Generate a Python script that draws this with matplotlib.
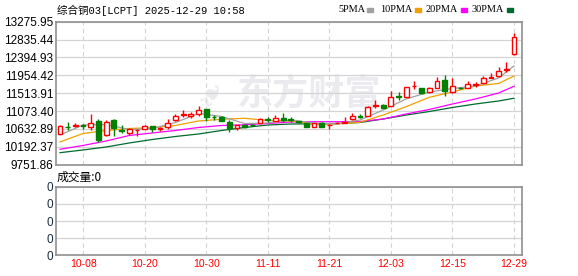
import matplotlib
matplotlib.use("Agg")
import matplotlib.pyplot as plt
import numpy as np

# ---- data ----
dates = ["10-03", "10-06", "10-07", "10-08", "10-09", "10-10", "10-13", "10-14", "10-15", "10-16",
         "10-17", "10-20", "10-21", "10-22", "10-23", "10-24", "10-27", "10-28", "10-29", "10-30",
         "10-31", "11-03", "11-04", "11-05", "11-06", "11-07", "11-10", "11-11", "11-12", "11-13",
         "11-14", "11-17", "11-18", "11-19", "11-20", "11-21", "11-24", "11-25", "11-26", "11-27",
         "11-28", "12-01", "12-02", "12-03", "12-04", "12-05", "12-08", "12-09", "12-10", "12-11",
         "12-12", "12-15", "12-16", "12-17", "12-18", "12-19", "12-22", "12-23", "12-24", "12-29"]

opens = [10510, 10690, 10700, 10720, 10674, 10829, 10484, 10854, 10600, 10540,
         10595, 10640, 10705, 10625, 10670, 10845, 10980, 10960, 10990, 11120,
         10930, 10920, 10800, 10660, 10740, 10730, 10775, 10870, 10840, 10910,
         10886, 10820, 10772, 10689, 10790, 10720, 10780, 10780, 10870, 10950,
         10960, 11210, 11223, 11199, 11440, 11428, 11680, 11635, 11537, 11650,
         11839, 11551, 11645, 11650, 11725, 11758, 11895, 11945, 12095, 12473]
highs = [10720, 10797, 10780, 10760, 10994, 10878, 10854, 10870, 10740, 10660,
         10620, 10720, 10715, 10690, 10870, 10995, 11100, 11060, 11190, 11130,
         10975, 10950, 10860, 10740, 10750, 10750, 10910, 10920, 10985, 11019,
         10928, 10840, 10780, 10780, 10800, 10760, 10810, 10935, 11018, 10990,
         11190, 11347, 11240, 11568, 11537, 11670, 11815, 11650, 11660, 11920,
         11962, 11881, 11660, 11815, 11797, 11938, 12019, 12167, 12290, 12990]
lows = [10500, 10615, 10680, 10640, 10607, 10304, 10460, 10460, 10540, 10475,
        10470, 10620, 10565, 10580, 10640, 10820, 10920, 10900, 10955, 10840,
        10860, 10830, 10570, 10610, 10650, 10700, 10770, 10800, 10830, 10812,
        10797, 10790, 10670, 10680, 10680, 10625, 10770, 10775, 10860, 10900,
        10950, 11142, 11140, 11190, 11347, 11420, 11617, 11500, 11530, 11640,
        11445, 11526, 11610, 11640, 11674, 11750, 11890, 11906, 12044, 12460]
closes = [10705, 10670, 10740, 10710, 10772, 10361, 10805, 10649, 10590, 10620,
          10605, 10700, 10640, 10650, 10790, 10950, 11000, 11010, 11090, 10930,
          10920, 10840, 10650, 10730, 10670, 10720, 10880, 10850, 10910, 10861,
          10846, 10810, 10689, 10772, 10689, 10740, 10790, 10800, 10950, 10930,
          11182, 11230, 11157, 11428, 11420, 11660, 11700, 11512, 11650, 11822,
          11576, 11692, 11630, 11733, 11740, 11881, 11910, 12061, 12110, 12892]

# moving averages as drawn, sampled at these candle positions
ma_idx = [0, 3, 6, 9, 12, 15, 18, 21, 24, 27, 30, 33, 36, 39, 42, 45, 48, 51, 54, 57, 59]
ma5 = [10484, 10730, 10743, 10619, 10644, 10792, 11014, 10940, 10767, 10780, 10854,
       10780, 10755, 10854, 11100, 11372, 11544, 11630, 11692, 11889, 12184]
ma10 = [10312, 10521, 10595, 10644, 10664, 10718, 10829, 10871, 10896, 10842, 10829,
        10755, 10755, 10797, 10977, 11182, 11413, 11544, 11692, 11753, 11938]
ma20 = [10132, 10226, 10336, 10472, 10534, 10595, 10669, 10718, 10736, 10767, 10804,
        10811, 10811, 10816, 10878, 11002, 11113, 11248, 11372, 11519, 11684]
ma30 = [10048, 10115, 10188, 10287, 10373, 10447, 10509, 10595, 10669, 10730, 10755,
        10760, 10767, 10792, 10878, 10976, 11063, 11162, 11248, 11322, 11389]

price_ticks = [13275.95, 12835.44, 12394.93, 11954.42, 11513.91, 11073.40, 10632.89, 10192.37, 9751.86]
label_dates = ["10-08", "10-20", "10-30", "11-11", "11-21", "12-03", "12-15", "12-29"]

ma_names = ["5PMA", "10PMA", "20PMA", "30PMA"]
ma_colors = ["#a0a0a0", "#f0a000", "#ff00ff", "#006a2e"]

W, H = 578, 276
fig = plt.figure(figsize=(W / 100, H / 100), dpi=100)


def px_axes(x0, y0, x1, y1):
    # axes placed by pixel box (top-left origin)
    return fig.add_axes([x0 / W, 1 - y1 / H, (x1 - x0) / W, (y1 - y0) / H])


frame_col = "#909090"
grid_col = "#d4d4d4"
n = len(dates)
xmin, xmax = -0.52, 60.04
tick_pos = [dates.index(d) for d in label_dates]

# ---- price panel ----
ax = px_axes(56, 21.7, 522, 164.7)
ax.set_xlim(xmin, xmax)
ax.set_ylim(price_ticks[-1], price_ticks[0])
ax.set_yticks(price_ticks)
ax.set_yticklabels([f"{v:.2f}" for v in price_ticks], fontsize=8.5, family="Liberation Sans")
ax.tick_params(axis="y", length=0, pad=2)
ax.set_xticks([])
ax.grid(axis="y", color=grid_col, lw=0.9)
for p in tick_pos:
    ax.axvline(p, color=grid_col, lw=0.8, ls=(0, (4, 3)), zorder=0)
for s in ax.spines.values():
    s.set_color(frame_col)
    s.set_linewidth(1.2)

# watermark
ax.text(0.543, 0.494, "东方财富", transform=ax.transAxes, fontsize=26, color="#ebebef",
        family="Noto Sans CJK SC", fontweight="bold", ha="center", va="center", zorder=0)
ax.text(0.335, 0.494, "\u2767", transform=ax.transAxes, fontsize=24, color="#ebebef",
        family="DejaVu Sans", ha="center", va="center", zorder=0, rotation=60)

# moving averages
for vals, col in zip([ma30, ma20, ma10, ma5], ma_colors[::-1]):
    ax.plot(ma_idx, vals, color=col, lw=0.9, zorder=2)

x = np.arange(n)
o = np.array(opens)
c = np.array(closes)
up = c >= o
colors = np.where(up, "#ff0000", "#008000")
ax.vlines(x, lows, highs, colors=colors, lw=1.0, zorder=3)
body_bottom = np.minimum(o, c)
body_h = np.maximum(np.abs(c - o), 8)
ax.bar(x[up], body_h[up], bottom=body_bottom[up], width=0.62, facecolor="white",
       edgecolor="#ff0000", lw=1.0, zorder=4)
ax.bar(x[~up], body_h[~up], bottom=body_bottom[~up], width=0.62, facecolor="#008000",
       edgecolor="#008000", lw=1.0, zorder=4)

# title and legend
fig.text(57 / W, 1 - 10 / H, "综合铜03[LCPT] 2025-12-29 10:58", fontsize=7.6,
         family=["Liberation Mono", "Noto Sans CJK SC"], va="center", ha="left")
leg_x = [338, 380, 426, 471]
for name, col, lx in zip(ma_names, ma_colors, leg_x):
    fig.text(lx / W, 1 - 10 / H, name, fontsize=7.4, family="Liberation Serif",
             va="center", ha="left")
for col, mx in zip(ma_colors, [367, 415, 461, 507]):
    fig.patches.append(plt.Rectangle((mx / W, 1 - 11.5 / H), 6 / W, 3 / H,
                                     transform=fig.transFigure, color=col))

# ---- volume panel ----
axv = px_axes(56, 186.7, 522, 255.3)
axv.set_xlim(xmin, xmax)
axv.set_ylim(0, 4)
axv.set_yticks(range(5))
axv.set_yticklabels(["0"] * 5, fontsize=8.5, family="Liberation Sans", color="#1a2a40")
axv.tick_params(axis="y", length=0, pad=2)
axv.grid(axis="y", color=grid_col, lw=0.9)
for p in tick_pos:
    axv.axvline(p, color=grid_col, lw=0.8, ls=(0, (4, 3)), zorder=0)
axv.set_xticks(tick_pos)
axv.set_xticklabels(label_dates, fontsize=7.6, color="#ff0000", family="Liberation Sans")
axv.tick_params(axis="x", length=0, pad=3)
for s in axv.spines.values():
    s.set_color(frame_col)
    s.set_linewidth(1.2)
fig.text(57 / W, 1 - 177 / H, "成交量:0", fontsize=8.5,
         family=["Noto Sans CJK SC", "DejaVu Sans"], va="center", ha="left")

fig.savefig("out.png", dpi=100)
